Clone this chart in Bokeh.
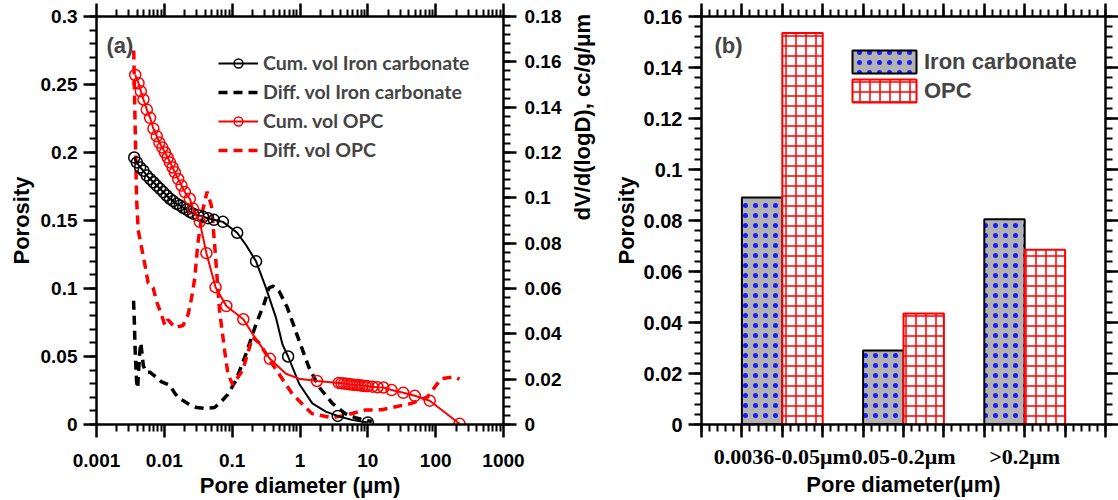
import math
from bokeh.plotting import figure
from bokeh.models import (Range1d, LinearAxis, LogAxis, FixedTicker, Legend, LegendItem, Label)
from bokeh.layouts import row
from bokeh.embed import file_html
from bokeh.resources import INLINE

# ---------------- Panel (a) data ----------------
iron_cum_d = [0.0036, 0.00394, 0.0044, 0.00492, 0.00552, 0.00617, 0.0069, 0.00773, 0.00864, 0.00966,
              0.01083, 0.0121, 0.01353, 0.01517, 0.01696, 0.01895, 0.02125, 0.02376, 0.02655, 0.0314,
              0.0372, 0.044, 0.0538, 0.073, 0.1186, 0.225, 0.668, 3.6, 10.0]
iron_cum_p = [0.1963, 0.1927, 0.189, 0.1866, 0.183, 0.1805, 0.1781, 0.1757, 0.1733, 0.1709,
              0.1684, 0.166, 0.1643, 0.1623, 0.1611, 0.1594, 0.158, 0.1563, 0.155, 0.1538,
              0.1527, 0.1517, 0.1505, 0.149, 0.141, 0.120, 0.050, 0.0063, 0.0015]
# points read along the smooth connecting line between sparse markers
iron_cum_trace_d = [0.16, 0.315, 0.442, 0.55, 0.97, 1.52, 2.4, 5.8]
iron_cum_trace_p = [0.132, 0.1005, 0.0786, 0.059, 0.030, 0.0155, 0.0095, 0.0034]

iron_diff_d = [0.00352, 0.00362, 0.0037, 0.0038, 0.0039, 0.00405, 0.00418, 0.00435, 0.0045, 0.0047,
               0.0049, 0.0054, 0.0062, 0.0075, 0.0091, 0.0121, 0.0143, 0.016, 0.0238, 0.03,
               0.0417, 0.055, 0.065, 0.085, 0.114, 0.16, 0.225, 0.30, 0.35, 0.40,
               0.49, 0.65, 0.97, 1.35, 1.9, 3.0, 4.7, 6.5, 9.0, 11.5]
iron_diff_v = [0.0546, 0.0446, 0.034, 0.026, 0.019, 0.016, 0.024, 0.032, 0.036, 0.031,
               0.026, 0.023, 0.023, 0.021, 0.0188, 0.0173, 0.0137, 0.012, 0.0086, 0.0075,
               0.0071, 0.0075, 0.0093, 0.013, 0.0195, 0.0312, 0.0443, 0.0538, 0.0603, 0.061,
               0.0589, 0.0516, 0.037, 0.0253, 0.0166, 0.0093, 0.0047, 0.003, 0.002, 0.0013]

opc_cum_d = [0.00372, 0.00416, 0.00451, 0.00492, 0.00552, 0.00617, 0.0069, 0.00773, 0.00844, 0.00934,
             0.01023, 0.0112, 0.0121, 0.01326, 0.01432, 0.016, 0.01795, 0.02007, 0.02376, 0.02655,
             0.03327, 0.0417, 0.0569, 0.082, 0.146, 0.36, 1.78, 3.72, 4.08, 4.45,
             4.88, 5.34, 5.83, 6.38, 6.99, 7.63, 8.36, 9.16, 10.0, 11.7,
             13.9, 17.0, 22.4, 33.3, 49.3, 81.8, 225]
opc_cum_p = [0.257, 0.251, 0.245, 0.239, 0.2315, 0.2255, 0.2175, 0.212, 0.2073, 0.2036,
             0.200, 0.1963, 0.1927, 0.189, 0.1854, 0.1805, 0.1757, 0.1709, 0.166, 0.1587,
             0.149, 0.126, 0.101, 0.0871, 0.0774, 0.0483, 0.032, 0.0306, 0.0304, 0.0301,
             0.0299, 0.0296, 0.0294, 0.0291, 0.029, 0.0288, 0.0285, 0.0284, 0.0282, 0.0278,
             0.0274, 0.0272, 0.0253, 0.0233, 0.0211, 0.0175, 0.0005]
opc_cum_trace_d = [0.2, 0.62, 0.96]
opc_cum_trace_p = [0.0665, 0.0373, 0.0337]

opc_diff_d = [0.00354, 0.00372, 0.0039, 0.00412, 0.00467, 0.00521, 0.00577, 0.00683, 0.0077, 0.00915,
              0.0102, 0.0113, 0.0143, 0.0189, 0.0224, 0.0252, 0.0282, 0.0298, 0.0315, 0.0373,
              0.0427, 0.0494, 0.0552, 0.0651, 0.0773, 0.0866, 0.102, 0.143, 0.2, 0.25,
              0.39, 0.77, 1.5, 3.0, 4.5, 9.2, 16, 44, 76, 120, 190, 225]
opc_diff_v = [0.165, 0.130, 0.0996, 0.0857, 0.0773, 0.070, 0.0625, 0.0603, 0.0542, 0.0481,
              0.0437, 0.0463, 0.0428, 0.0437, 0.0485, 0.0559, 0.0647, 0.0734, 0.0808, 0.0953,
              0.1027, 0.0966, 0.0791, 0.0503, 0.0328, 0.0223, 0.0175, 0.024, 0.0385, 0.036,
              0.0267, 0.0135, 0.0048, 0.003, 0.004, 0.0064, 0.0065, 0.0093, 0.0122, 0.0202, 0.021, 0.020]

x_ticks_a = [0.001, 0.01, 0.1, 1, 10, 100, 1000]
x_tick_labels_a = ["0.001", "0.01", "0.1", "1", "10", "100", "1000"]
y_ticks_a = [0, 0.05, 0.1, 0.15, 0.2, 0.25, 0.3]
y_tick_labels_a = ["0", "0.05", "0.1", "0.15", "0.2", "0.25", "0.3"]
y2_ticks_a = [0, 0.02, 0.04, 0.06, 0.08, 0.1, 0.12, 0.14, 0.16, 0.18]
y2_tick_labels_a = ["0", "0.02", "0.04", "0.06", "0.08", "0.1", "0.12", "0.14", "0.16", "0.18"]

# ---------------- Panel (b) data ----------------
categories = ["0.0036-0.05μm", "0.05-0.2μm", ">0.2μm"]
iron_porosity = [0.089, 0.029, 0.0805]
opc_porosity = [0.1535, 0.0435, 0.0685]
y_ticks_b = [0, 0.02, 0.04, 0.06, 0.08, 0.1, 0.12, 0.14, 0.16]
y_tick_labels_b = ["0", "0.02", "0.04", "0.06", "0.08", "0.1", "0.12", "0.14", "0.16"]

# ---------------- styling helpers ----------------
FONT = "Liberation Sans"


def style_axis(ax, show_labels=True, tick_size="20px", font=FONT):
    ax.axis_line_width = 2.5
    ax.axis_line_color = "black"
    ax.major_tick_line_width = 2.5
    ax.minor_tick_line_width = 2
    ax.major_tick_line_color = "black"
    ax.minor_tick_line_color = "black"
    ax.major_tick_in = 0
    ax.major_tick_out = 13
    ax.minor_tick_in = 0
    ax.minor_tick_out = 7
    ax.axis_label_text_font = FONT
    ax.axis_label_text_font_style = "bold"
    ax.axis_label_text_font_size = "22px"
    ax.axis_label_text_color = "black"
    if show_labels:
        ax.major_label_text_font = font
        ax.major_label_text_font_style = "bold"
        ax.major_label_text_font_size = tick_size
        ax.major_label_text_color = "black"
    else:
        ax.major_label_text_font_size = "1px"
        ax.major_label_text_color = None
        ax.major_label_standoff = 0


log_minor = [m * 10.0 ** e for e in range(-3, 3) for m in range(2, 10)]

# ---------------- Panel (a) ----------------
pa = figure(width=610, height=500, x_axis_type="log",
            x_range=Range1d(0.001, 1000), y_range=Range1d(0, 0.3),
            output_backend="svg", toolbar_location=None,
            min_border_left=96, min_border_right=105, min_border_top=16, min_border_bottom=72)
pa.grid.visible = False
pa.outline_line_color = None
pa.extra_y_ranges = {"diff": Range1d(0, 0.18)}

xa = pa.xaxis[0]
xa.ticker = FixedTicker(ticks=x_ticks_a, minor_ticks=log_minor)
xa.major_label_overrides = dict(zip(x_ticks_a, x_tick_labels_a))
xa.axis_label = "Pore diameter (μm)"
style_axis(xa, tick_size="19px")
xa.major_label_standoff = 16
xa.axis_label_standoff = 3

ya = pa.yaxis[0]
ya.ticker = FixedTicker(ticks=y_ticks_a, minor_ticks=[i * 0.01 for i in range(31)])
ya.major_label_overrides = dict(zip(y_ticks_a, y_tick_labels_a))
ya.axis_label = "Porosity"
style_axis(ya, tick_size="19px")
ya.major_label_standoff = 6
ya.axis_label_standoff = 4

top_a = LogAxis(ticker=FixedTicker(ticks=x_ticks_a, minor_ticks=log_minor))
style_axis(top_a, show_labels=False)
pa.add_layout(top_a, "above")

right_a = LinearAxis(y_range_name="diff",
                     ticker=FixedTicker(ticks=y2_ticks_a, minor_ticks=[i * 0.004 for i in range(46)]),
                     axis_label="dV/d(logD), cc/g/μm")
right_a.major_label_overrides = dict(zip(y2_ticks_a, y2_tick_labels_a))
style_axis(right_a, tick_size="19px")
right_a.major_label_standoff = 8
right_a.axis_label_standoff = 18
try:
    right_a.axis_label_orientation = math.pi / 2
except Exception:
    pass
pa.add_layout(right_a, "right")

iron_line = sorted(zip(iron_cum_d + iron_cum_trace_d, iron_cum_p + iron_cum_trace_p))
opc_line = sorted(zip(opc_cum_d + opc_cum_trace_d, opc_cum_p + opc_cum_trace_p))

r_iron_diff = pa.line(iron_diff_d, iron_diff_v, y_range_name="diff", line_color="black",
                      line_width=3.5, line_dash="9 6")
r_opc_diff = pa.line(opc_diff_d, opc_diff_v, y_range_name="diff", line_color="red",
                     line_width=3.5, line_dash="9 6")
r_iron_l = pa.line([d for d, _ in iron_line], [p for _, p in iron_line], line_color="black", line_width=2)
r_iron_s = pa.scatter(iron_cum_d, iron_cum_p, marker="circle", size=11, line_color="black",
                      fill_color=None, line_width=1.5)
r_opc_l = pa.line([d for d, _ in opc_line], [p for _, p in opc_line], line_color="red", line_width=2)
r_opc_s = pa.scatter(opc_cum_d, opc_cum_p, marker="circle", size=11, line_color="red",
                     fill_color=None, line_width=1.5)

leg_a = Legend(items=[
    LegendItem(label="Cum. vol Iron carbonate", renderers=[r_iron_l, r_iron_s]),
    LegendItem(label="Diff. vol Iron carbonate", renderers=[r_iron_diff]),
    LegendItem(label="Cum. vol OPC", renderers=[r_opc_l, r_opc_s]),
    LegendItem(label="Diff. vol OPC", renderers=[r_opc_diff]),
], location=(122, 263))
leg_a.background_fill_alpha = 0
leg_a.border_line_color = None
leg_a.padding = 0
leg_a.margin = 0
leg_a.spacing = 6
leg_a.glyph_height = 22
leg_a.glyph_width = 40
leg_a.label_height = 22
leg_a.label_standoff = 5
leg_a.label_text_font = "Lato"
leg_a.label_text_font_style = "bold"
leg_a.label_text_font_size = "19.5px"
pa.add_layout(leg_a)

pa.add_layout(Label(x=0.0014, y=0.279, text="(a)", text_font=FONT, text_font_style="bold",
                    text_font_size="22px", text_baseline="middle", text_align="left"))

# ---------------- Panel (b) ----------------
pb = figure(width=508, height=500, x_range=Range1d(0, 10), y_range=Range1d(0, 0.16),
            output_backend="svg", toolbar_location=None,
            min_border_left=90, min_border_right=10, min_border_top=16, min_border_bottom=76)
pb.grid.visible = False
pb.outline_line_color = None

bx_major = list(range(11))
bx_minor = [i / 5 for i in range(51)]
cat_pos = [2 + 3 * i for i in range(len(categories))]
iron_x = [1.5 + 3 * i for i in range(len(categories))]
opc_x = [2.5 + 3 * i for i in range(len(categories))]

xb = pb.xaxis[0]
xb.ticker = FixedTicker(ticks=bx_major, minor_ticks=bx_minor)
overrides_b = {t: " " for t in bx_major}
overrides_b.update(dict(zip(cat_pos, categories)))
xb.major_label_overrides = overrides_b
xb.axis_label = "Pore diameter(μm)"
style_axis(xb, tick_size="22px", font="Liberation Serif")
xb.major_label_standoff = 6
xb.axis_label_standoff = 0

yb = pb.yaxis[0]
yb.ticker = FixedTicker(ticks=y_ticks_b, minor_ticks=[i * 0.004 for i in range(41)])
yb.major_label_overrides = dict(zip(y_ticks_b, y_tick_labels_b))
yb.axis_label = "Porosity"
style_axis(yb, tick_size="20px")
yb.major_label_standoff = 6
yb.axis_label_standoff = 2

top_b = LinearAxis(ticker=FixedTicker(ticks=bx_major, minor_ticks=bx_minor))
style_axis(top_b, show_labels=False)
pb.add_layout(top_b, "above")
right_b = LinearAxis(ticker=FixedTicker(ticks=y_ticks_b, minor_ticks=[i * 0.004 for i in range(41)]))
style_axis(right_b, show_labels=False)
pb.add_layout(right_b, "right")

r_iron_bar = pb.vbar(x=iron_x, top=iron_porosity, width=1, bottom=0,
                     fill_color="#b3b3b3", line_color="black", line_width=2,
                     hatch_pattern="dot", hatch_color="blue", hatch_scale=10, hatch_weight=0.45,
                     hatch_alpha=0.85)
r_opc_bar = pb.vbar(x=opc_x, top=opc_porosity, width=1, bottom=0,
                    fill_color="white", line_color="red", line_width=2,
                    hatch_pattern="cross", hatch_color="red", hatch_scale=10, hatch_weight=1.5)

leg_b = Legend(items=[
    LegendItem(label="Iron carbonate", renderers=[r_iron_bar]),
    LegendItem(label="OPC", renderers=[r_opc_bar]),
], location=(143, 319))
leg_b.background_fill_alpha = 0
leg_b.border_line_color = None
leg_b.padding = 0
leg_b.margin = 0
leg_b.spacing = 0
leg_b.glyph_height = 29
leg_b.glyph_width = 80
leg_b.label_height = 29
leg_b.label_standoff = 0
leg_b.label_text_font = FONT
leg_b.label_text_font_style = "bold"
leg_b.label_text_font_size = "22px"
pb.add_layout(leg_b)

pb.add_layout(Label(x=0.32, y=0.1486, text="(b)", text_font=FONT, text_font_style="bold",
                    text_font_size="22px", text_baseline="middle", text_align="left"))

layout = row(pa, pb)
open("out.html", "w").write(file_html(layout, INLINE))
